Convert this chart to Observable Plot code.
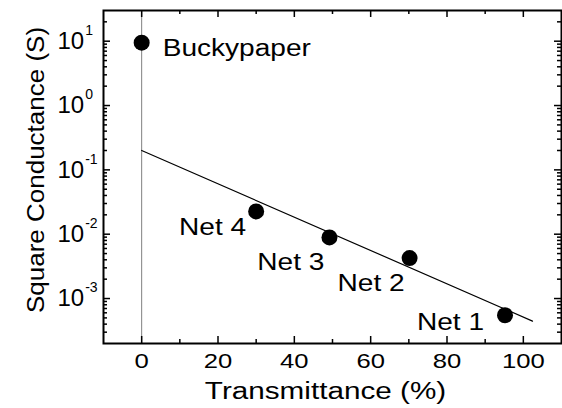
<!DOCTYPE html>
<html><head><meta charset="utf-8">
<script src="https://cdn.jsdelivr.net/npm/d3@7"></script>
<script src="https://cdn.jsdelivr.net/npm/@observablehq/plot@0.6"></script>
<style>body{margin:0;background:#fff} svg{display:block}</style>
</head><body><div id="chart"></div>
<script>
// ---- data ----
const samples = ["Buckypaper", "Net 4", "Net 3", "Net 2", "Net 1"];
const transmittance = [0, 30, 49.2, 70.2, 95.2];
const conductance = [9.5, 0.0226, 0.0089, 0.00425, 0.00055];
const fitTransmittance = [0, 102.4];
const fitConductance = [0.2, 0.000445];
const xMajorTicks = [0, 20, 40, 60, 80, 100];
const xMinorTicks = [10, 30, 50, 70, 90];
const yMajorTicks = [1e-3, 1e-2, 1e-1, 1, 10];
const yTickExponents = ["-3", "-2", "-1", "0", "1"];
const yMinorMultipliers = [2, 3, 4, 5, 6, 7, 8, 9];
const yMinorDecades = [1e-4, 1e-3, 1e-2, 1e-1, 1, 10];
const xTitle = "Transmittance (%)";
const yTitle = "Square Conductance (S)";

// ---- layout ----
const W = 562, H = 408, mL = 103, mR = 1, mT = 10, mB = 65;
const innerW = W - mL - mR, innerH = H - mT - mB;
const yDomain = [2e-4, 30];
const yMinorTicks = [];
for (const d of yMinorDecades) for (const m of yMinorMultipliers) {
  const v = d * m; if (v > yDomain[0] && v < yDomain[1]) yMinorTicks.push(v);
}

const points = samples.map((s, i) => ({s, x: transmittance[i], y: conductance[i]}));
const fit = fitTransmittance.map((x, i) => ({x, y: fitConductance[i]}));
const tickStyle = {stroke: "black", strokeWidth: 1.5};
const labelFont = 23;

const plot = Plot.plot({
  width: W, height: H,
  marginLeft: mL, marginRight: mR, marginTop: mT, marginBottom: mB,
  style: {fontFamily: "'Liberation Sans', Arial, sans-serif", color: "black", background: "white"},
  x: {domain: [-10, 110]},
  y: {type: "log", domain: yDomain, axis: null},
  marks: [
    Plot.ruleX([0], {stroke: "#808080", strokeWidth: 1}),
    Plot.line(fit, {x: "x", y: "y", stroke: "black", strokeWidth: 1.2}),
    Plot.dot(points, {x: "x", y: "y", r: 8, fill: "black"}),
    // inward ticks: bottom / top
    Plot.tickX(xMajorTicks, {x: d => d, insetTop: innerH - 7, ...tickStyle}),
    Plot.tickX(xMajorTicks, {x: d => d, insetBottom: innerH - 7, ...tickStyle}),
    Plot.tickX(xMinorTicks, {x: d => d, insetTop: innerH - 4, ...tickStyle}),
    Plot.tickX(xMinorTicks, {x: d => d, insetBottom: innerH - 4, ...tickStyle}),
    // inward ticks: left / right
    Plot.tickY(yMajorTicks, {y: d => d, insetRight: innerW - 7, ...tickStyle}),
    Plot.tickY(yMajorTicks, {y: d => d, insetLeft: innerW - 7, ...tickStyle}),
    Plot.tickY(yMinorTicks, {y: d => d, insetRight: innerW - 4, ...tickStyle}),
    Plot.tickY(yMinorTicks, {y: d => d, insetLeft: innerW - 4, ...tickStyle}),
    Plot.frame({stroke: "black", strokeWidth: 2}),
    Plot.axisX(xMajorTicks, {tickSize: 0, tickPadding: 10, fontSize: 21, label: null}),
    // y tick labels (left-aligned, with superscript exponent added below)
    Plot.text(yMajorTicks, {y: d => d, frameAnchor: "left", textAnchor: "start", dx: -46, fontSize: 24,
      text: d => "10^" + yTickExponents[yMajorTicks.indexOf(d)]}),
    Plot.text([xTitle], {frameAnchor: "bottom", textAnchor: "middle", dx: -7, dy: 55, lineAnchor: "bottom", fontSize: labelFont}),
    Plot.text([yTitle], {frameAnchor: "left", textAnchor: "middle", rotate: -90, dx: -60, dy: -7, lineAnchor: "bottom", fontSize: labelFont}),
    // point annotations
    Plot.text(points.filter(p => p.s === "Buckypaper"), {x: "x", y: "y", text: "s", textAnchor: "start", lineAnchor: "bottom", dx: 21, dy: 13, fontSize: labelFont}),
    Plot.text(points.filter(p => p.s === "Net 4"), {x: "x", y: "y", text: "s", textAnchor: "end", lineAnchor: "bottom", dx: -10, dy: 24, fontSize: labelFont}),
    Plot.text(points.filter(p => p.s === "Net 3" || p.s === "Net 2"), {x: "x", y: "y", text: "s", textAnchor: "end", lineAnchor: "bottom", dx: -5, dy: 33, fontSize: labelFont}),
    Plot.text(points.filter(p => p.s === "Net 1"), {x: "x", y: "y", text: "s", textAnchor: "end", lineAnchor: "bottom", dx: -21, dy: 15, fontSize: labelFont})
  ]
});
document.getElementById("chart").append(plot);

// stretch glyphs horizontally (the original lettering is wide)
plot.querySelectorAll("text").forEach(t => {
  const s = t.textContent;
  if (s.includes("^")) return;
  const f = s === yTitle ? 1.13 : s === xTitle ? 1.29 : 1.22;
  const len = t.getComputedTextLength();
  t.setAttribute("textLength", (len * f).toFixed(1));
  t.setAttribute("lengthAdjust", "spacingAndGlyphs");
});

// superscript exponents on log tick labels
const NS = "http://www.w3.org/2000/svg";
plot.querySelectorAll("text").forEach(t => {
  if (!t.textContent.includes("^")) return;
  const [base, exp] = t.textContent.split("^");
  t.textContent = "";
  const a = document.createElementNS(NS, "tspan"); a.textContent = base;
  const b = document.createElementNS(NS, "tspan"); b.textContent = exp;
  b.setAttribute("dy", "-14"); b.setAttribute("dx", "1"); b.setAttribute("font-size", "14");
  t.append(a, b);
});
</script></body></html>
